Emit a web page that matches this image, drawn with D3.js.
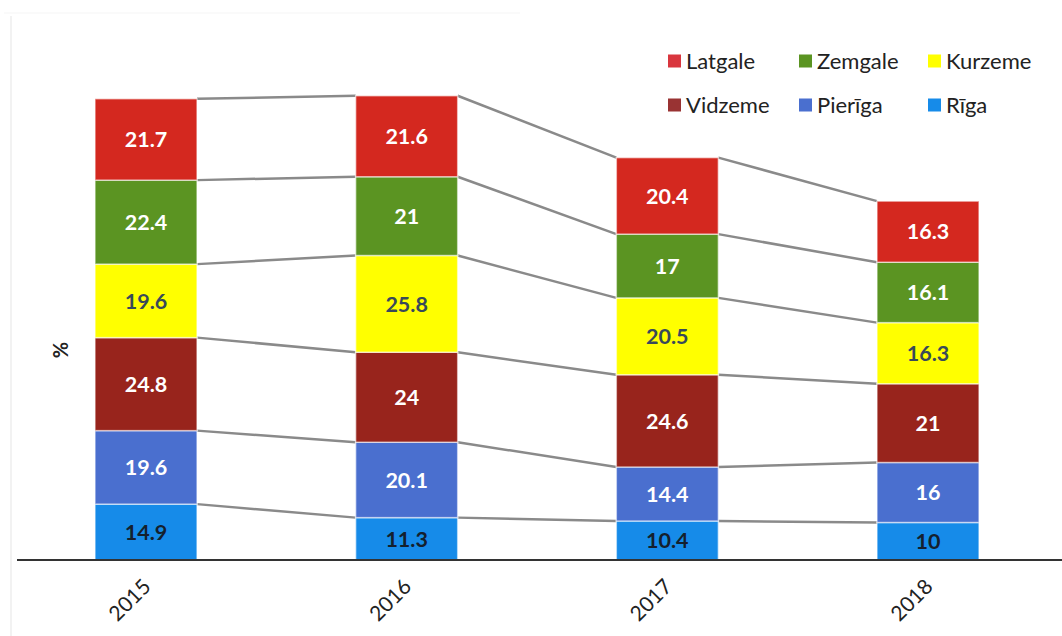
<!DOCTYPE html>
<html>
<head>
<meta charset="utf-8">
<script src="https://cdn.jsdelivr.net/npm/d3@7"></script>
<style>
  html, body { margin: 0; padding: 0; background: #fff; }
  svg { display: block; font-family: Lato, "Open Sans", sans-serif; }
</style>
</head>
<body>
<svg id="chart" width="1062" height="636"></svg>
<script>
// Regional shares (%) by year, stacked bottom to top
const years = ["2015", "2016", "2017", "2018"];
const regions = ["Rīga", "Pierīga", "Vidzeme", "Kurzeme", "Zemgale", "Latgale"];
const riga    = [14.9, 11.3, 10.4, 10];
const pieriga = [19.6, 20.1, 14.4, 16];
const vidzeme = [24.8, 24, 24.6, 21];
const kurzeme = [19.6, 25.8, 20.5, 16.3];
const zemgale = [22.4, 21, 17, 16.1];
const latgale = [21.7, 21.6, 20.4, 16.3];
const legendOrder = ["Latgale", "Zemgale", "Kurzeme", "Vidzeme", "Pierīga", "Rīga"];

const seriesValues = {
  "Rīga": riga, "Pierīga": pieriga, "Vidzeme": vidzeme,
  "Kurzeme": kurzeme, "Zemgale": zemgale, "Latgale": latgale
};
const fills = {
  "Rīga": "#168be9", "Pierīga": "#4a6fcf", "Vidzeme": "#98241c",
  "Kurzeme": "#ffff00", "Zemgale": "#5b9422", "Latgale": "#d4281f"
};
const legendFills = Object.assign({}, fills, { "Latgale": "#d9363e", "Vidzeme": "#993333" });
const labelColors = {
  "Rīga": "#14202e", "Pierīga": "#ffffff", "Vidzeme": "#ffffff",
  "Kurzeme": "#38495a", "Zemgale": "#ffffff", "Latgale": "#ffffff"
};

const svg = d3.select("#chart");
const baseY = 560;
const barW = 102;

const x = d3.scalePoint().domain(years).range([146, 928]);
const y = d3.scaleLinear().domain([0, 140]).range([baseY, 35]);

// table for the stack
const table = years.map((yr, i) => {
  const row = { year: yr };
  regions.forEach(r => row[r] = seriesValues[r][i]);
  return row;
});
const stacked = d3.stack().keys(regions)(table);

// faint frame lines
svg.append("line").attr("x1", 11).attr("x2", 11).attr("y1", 16).attr("y2", 636)
  .attr("stroke", "#f2f2f2").attr("stroke-width", 2);
svg.append("line").attr("x1", 4).attr("x2", 520).attr("y1", 13).attr("y2", 13)
  .attr("stroke", "#fafafa").attr("stroke-width", 2);

// connector lines between tops of segments
const connectors = svg.append("g");
stacked.forEach(s => {
  for (let i = 0; i < years.length - 1; i++) {
    connectors.append("line")
      .attr("x1", x(years[i]) + barW / 2)
      .attr("y1", y(s[i][1]))
      .attr("x2", x(years[i + 1]) - barW / 2)
      .attr("y2", y(s[i + 1][1]))
      .attr("stroke", "#8a8a8a")
      .attr("stroke-width", 2.5);
  }
});

// stacked bars
const layers = svg.append("g").selectAll("g").data(stacked).join("g")
  .attr("fill", d => fills[d.key]);
layers.selectAll("rect").data(d => d).join("rect")
  .attr("x", d => x(d.data.year) - barW / 2)
  .attr("y", d => y(d[1]))
  .attr("width", barW)
  .attr("height", d => y(d[0]) - y(d[1]))
  .attr("stroke", "rgba(255,255,255,0.55)")
  .attr("stroke-width", 1.5);

// value labels
const labels = svg.append("g");
stacked.forEach(s => {
  s.forEach(d => {
    labels.append("text")
      .attr("x", x(d.data.year))
      .attr("y", (y(d[0]) + y(d[1])) / 2)
      .attr("dy", "0.36em")
      .attr("text-anchor", "middle")
      .attr("font-size", 21.5)
      .attr("font-weight", "bold")
      .attr("fill", labelColors[s.key])
      .text(d.data[s.key]);
  });
});

// baseline axis
svg.append("line").attr("x1", 17).attr("x2", 1062).attr("y1", baseY).attr("y2", baseY)
  .attr("stroke", "#333").attr("stroke-width", 2);

// rotated year labels
const xAxis = svg.append("g");
years.forEach(yr => {
  const ax = x(yr) + 6, ay = 588;
  xAxis.append("text")
    .attr("transform", `translate(${ax},${ay}) rotate(-45)`)
    .attr("text-anchor", "end")
    .attr("font-size", 21)
    .attr("fill", "#222")
    .text(yr);
});

// y axis title
svg.append("text")
  .attr("transform", "translate(68,350) rotate(-90)")
  .attr("text-anchor", "middle")
  .attr("font-size", 20)
  .attr("font-weight", "bold")
  .attr("fill", "#222")
  .text("%");

// legend
const legendPos = [
  [668, 61], [799, 61], [928, 61],
  [668, 105], [799, 105], [928, 105]
];
const legend = svg.append("g");
legendOrder.forEach((name, i) => {
  const [lx, ly] = legendPos[i];
  legend.append("rect")
    .attr("x", lx).attr("y", ly - 6.5)
    .attr("width", 13).attr("height", 13)
    .attr("fill", legendFills[name]);
  legend.append("text")
    .attr("x", lx + 18).attr("y", ly)
    .attr("dy", "0.35em")
    .attr("font-size", 22)
    .attr("fill", "#222")
    .text(name);
});
</script>
</body>
</html>
